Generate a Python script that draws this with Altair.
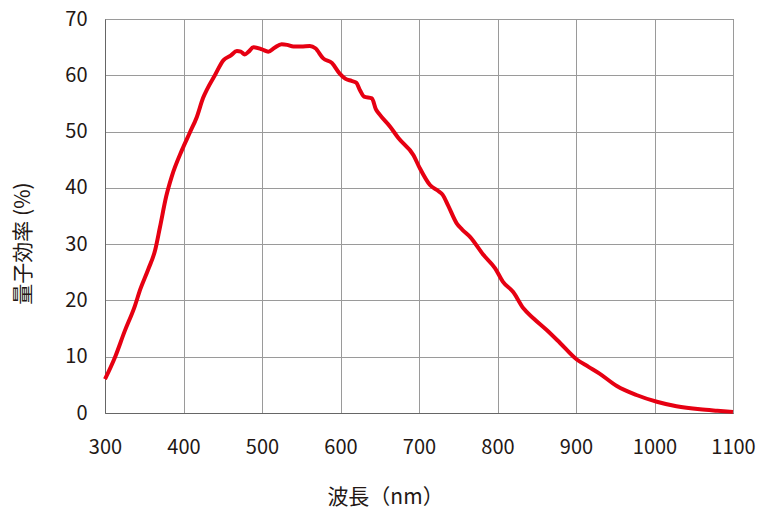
import altair as alt
import pandas as pd

wavelength = [300, 313, 325, 338, 345, 355, 364, 370, 378, 385, 398, 408, 417, 425, 430,
              440, 451, 460, 468, 473, 478, 483, 489, 500, 508, 516, 525, 532, 540, 550,
              561, 568, 578, 589, 599, 606, 614, 620, 625, 630, 640, 645, 650, 663, 674,
              693, 701, 714, 725, 730, 737, 748, 755, 765, 782, 797, 807, 820, 833, 846,
              863, 880, 901, 916, 930, 952, 977, 1003, 1028, 1058, 1080, 1100]
qe = [6.0, 10.0, 14.5, 19.0, 22.0, 25.5, 29.0, 33.0, 38.5, 42.0, 46.7, 49.8, 52.6, 56.0, 57.5,
      60.0, 62.7, 63.5, 64.3, 64.2, 63.7, 64.2, 65.0, 64.6, 64.2, 64.9, 65.5, 65.4, 65.1, 65.1,
      65.2, 64.8, 63.0, 62.2, 60.3, 59.4, 59.0, 58.7, 57.3, 56.2, 55.9, 54.0, 53.0, 50.9, 48.8,
      45.8, 43.5, 40.5, 39.4, 38.8, 36.9, 33.7, 32.6, 31.3, 28.1, 25.7, 23.3, 21.5, 18.6, 16.8,
      14.7, 12.4, 9.5, 8.2, 7.0, 4.8, 3.2, 2.0, 1.2, 0.65, 0.4, 0.2]

df = pd.DataFrame({"nm": wavelength, "qe": qe})
FONT = "Noto Sans CJK JP"

chart = alt.Chart(df).mark_line(
    color="#e60012", strokeWidth=4, interpolate="monotone"
).encode(
    x=alt.X("nm:Q", scale=alt.Scale(domain=[300, 1100], nice=False, zero=False),
            axis=alt.Axis(values=list(range(300, 1101, 100)), format="d", title="波長（nm）",
                          titleX=280, titleY=84, titleAlign="center", titleBaseline="middle",
                          labelPadding=24, labelFlush=False)),
    y=alt.Y("qe:Q", scale=alt.Scale(domain=[0, 70], nice=False),
            axis=alt.Axis(values=list(range(0, 71, 10)), title="量子効率 (%)",
                          titleX=-82, titleY=224, titleAlign="center", titleBaseline="middle",
                          labelPadding=18)),
).properties(
    width=628, height=394,
    autosize=alt.AutoSizeParams(type="none"),
    padding={"left": 97, "top": 11, "right": 26, "bottom": 100},
).configure_view(
    stroke="#666666", strokeWidth=1
).configure_axis(
    grid=True, gridColor="#9a9a9a", gridWidth=1, gridOpacity=1,
    ticks=False, domainColor="#666666", domainWidth=1,
    labelFont=FONT, labelFontSize=20, labelColor="#231815", labelFontWeight="normal",
    titleFont=FONT, titleFontSize=21, titleColor="#231815", titleFontWeight="normal",
)

chart.save("out.html", embed_options={"renderer": "svg", "actions": False})
